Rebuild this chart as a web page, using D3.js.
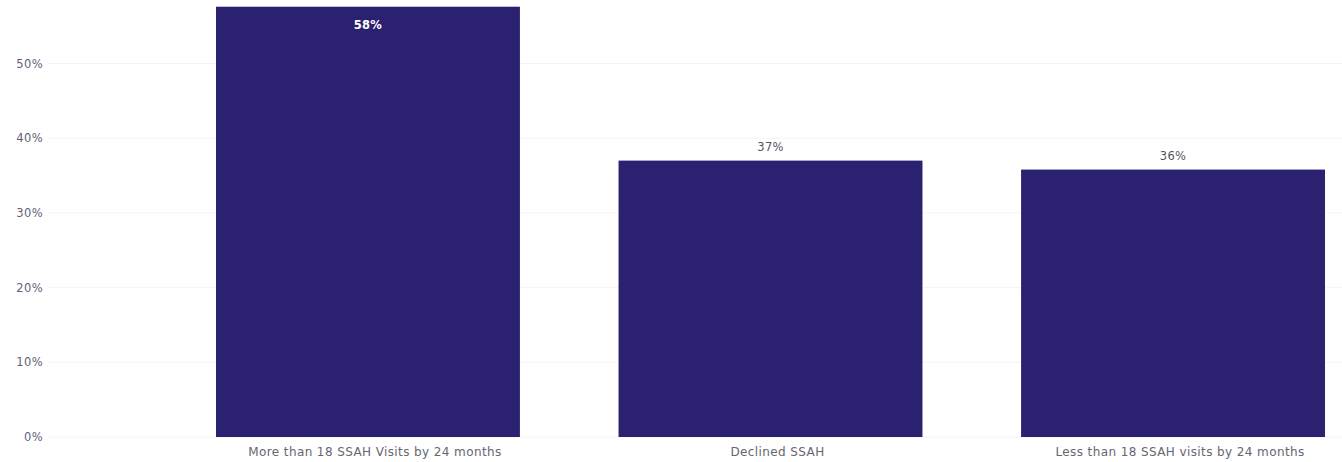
<!DOCTYPE html>
<html><head><meta charset="utf-8">
<script src="https://cdn.jsdelivr.net/npm/d3@7"></script>
<style>body{margin:0;background:#fff;}svg{display:block;}</style>
</head><body>
<svg id="c" width="1342" height="462"></svg>
<script>
const categories = ["More than 18 SSAH Visits by 24 months", "Declined SSAH", "Less than 18 SSAH visits by 24 months"];
const values = [57.6, 37.0, 35.8];
const valueLabels = ["58%", "37%", "36%"];
const yTicks = [0, 10, 20, 30, 40, 50];

const FONT = "DejaVu Sans, Verdana, sans-serif";
const svg = d3.select("#c");
const W = 1342, H = 462;
const x = d3.scaleBand().domain(categories).range([216, 1325]).paddingInner(0.245).paddingOuter(0);
const y = d3.scaleLinear().domain([0, 50]).range([437, 63.5]);

// gridlines
svg.append("g").selectAll("line").data(yTicks).join("line")
  .attr("x1", 48).attr("x2", W).attr("y1", d => y(d)).attr("y2", d => y(d))
  .attr("stroke", "#f4f4f4").attr("stroke-width", 1);

// y axis
const ya = svg.append("g").attr("transform", "translate(43,0)")
  .call(d3.axisLeft(y).tickValues(yTicks).tickFormat(d => d + "%").tickSize(0).tickPadding(0));
ya.select(".domain").remove();
ya.selectAll("text").attr("fill", "#5f5f7a").style("font-family", FONT).style("font-size", "11.5px").style("letter-spacing", "0.4px");

// bars
svg.append("g").selectAll("rect").data(categories).join("rect")
  .attr("x", d => x(d)).attr("width", x.bandwidth())
  .attr("y", (d, i) => y(values[i])).attr("height", (d, i) => y(0) - y(values[i]))
  .attr("fill", "#2a2170");

// value labels
svg.append("g").selectAll("text").data(categories).join("text")
  .attr("x", d => x(d) + x.bandwidth() / 2)
  .attr("y", (d, i) => i === 0 ? y(values[i]) + 22 : y(values[i]) - 10)
  .attr("text-anchor", "middle")
  .attr("fill", (d, i) => i === 0 ? "#ffffff" : "#555560")
  .style("font-weight", (d, i) => i === 0 ? "bold" : "normal")
  .style("font-family", FONT).style("font-size", "11.5px").style("letter-spacing", "0.3px")
  .text((d, i) => valueLabels[i]);

// x axis
const xa = svg.append("g").attr("transform", "translate(0,437)")
  .call(d3.axisBottom(x).tickSize(0).tickPadding(10));
xa.select(".domain").remove();
xa.selectAll("text").attr("dx", 7).attr("fill", "#666670").style("font-family", FONT).style("font-size", "12px").style("letter-spacing", "0.4px");
</script>
</body></html>
